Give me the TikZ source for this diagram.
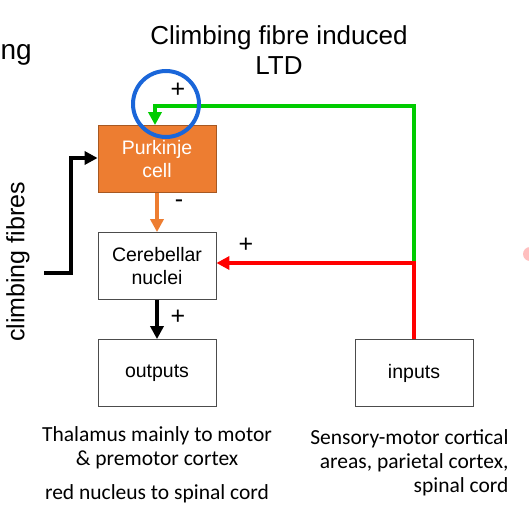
\documentclass[tikz,border=0pt]{standalone}
\usepackage{fontspec}
\setmainfont{Liberation Sans}
\newfontfamily\calib{Carlito}
\usetikzlibrary{arrows.meta}
\definecolor{porange}{HTML}{ED7D31}
\definecolor{pgreen}{HTML}{00CC00}
\definecolor{pred}{HTML}{FF0000}
\definecolor{pblue}{HTML}{1A66D9}
\begin{document}
\begin{tikzpicture}[x=1pt,y=-1pt,
  box/.style={draw=black!70,line width=0.8pt,minimum width=118pt,minimum height=67pt,inner sep=0pt,align=center,font=\fontsize{19.5}{23}\selectfont},
  conn/.style={line width=4pt,-{Triangle[length=13pt,width=13pt]}},
  sign/.style={font=\fontsize{25}{25}\selectfont},
  note/.style={font=\calib\fontsize{21.5}{24}\selectfont,align=center}]
\useasboundingbox (0,0) rectangle (529,525);
\fill[pred!25] (530,254) circle (7pt);
\node[anchor=west,font=\fontsize{28}{28}\selectfont] (ng) at (-3,55) {ng};
\node[align=center,font=\fontsize{26}{30}\selectfont] (title) at (279,50) {Climbing fibre induced\\LTD};
\node[box,fill=porange,draw=porange!70!black,text=white] (pk) at (157,159) {Purkinje\\cell};
\node[box] (cn) at (157,266) {Cerebellar\\nuclei};
\node[box] (out) at (157,373) {outputs};
\node[box] (in) at (414,373) {inputs};
\node[rotate=90,font=\fontsize{25}{25}\selectfont] (cf) at (18,262) {climbing fibres};
\coordinate (cfs) at (44,273);
\coordinate (gtop) at (414,106);
\coordinate (split) at (414,263);
\draw[conn,line cap=butt] (cfs) -- (71,273) -- (71,158) -- (pk.west|-0,158);
\draw[conn,pgreen] (split) -- (gtop) -- (155,106) -- (pk.north-|155,0);
\draw[conn,porange] (pk.south) -- (cn.north);
\draw[conn,pred] (in.north) -- (split) -- (cn.east|-split);
\draw[conn,black] (cn.south) -- (out.north);
\draw[pblue,line width=4pt] (166,104) circle (33pt);
\node[sign] (p1) at (178,90) {+};
\node[sign] (m1) at (179,204) {-};
\node[sign] (p2) at (246,245) {+};
\node[sign] (p3) at (178,317) {+};
\node[note] (lt) at (157,448) {Thalamus mainly to motor\\\& premotor cortex};
\node[note] (lt2) at (157,494) {red nucleus to spinal cord};
\node[note,align=right,anchor=east] (rt) at (512,463) {Sensory-motor cortical\\areas, parietal cortex,\\spinal cord};
\end{tikzpicture}
\end{document}
